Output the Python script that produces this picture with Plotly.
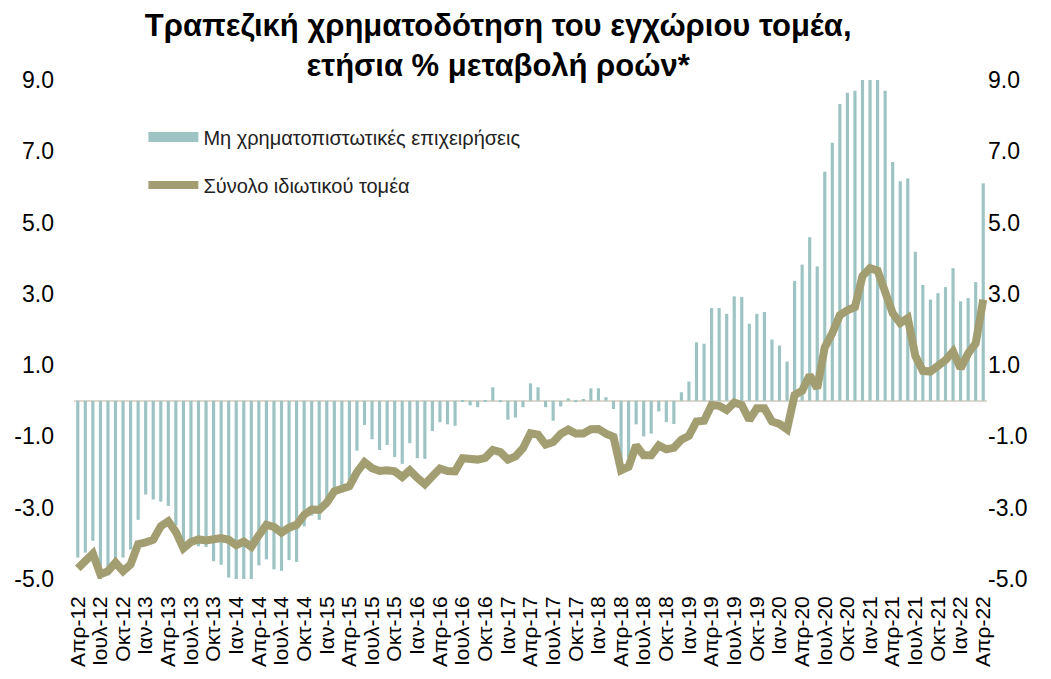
import plotly.graph_objects as go

# Greek month abbreviations and the monthly periods Apr-2012 .. Apr-2022
month_names = ["Ιαν", "Φεβ", "Μαρ", "Απρ", "Μαϊ", "Ιουν",
               "Ιουλ", "Αυγ", "Σεπ", "Οκτ", "Νοε", "Δεκ"]
periods = [f"{month_names[(3 + k) % 12]}-{12 + (3 + k) // 12}" for k in range(121)]
tick_labels = periods[::3]

# Non-financial corporations, annual % change of flows
nfc = [
    -4.40, -4.26, -3.93, -5.00, -4.90, -4.50, -4.40, -4.17, -3.34, -2.63,
    -2.77, -2.83, -2.95, -3.50, -4.05, -4.00, -4.08, -4.10, -4.50, -4.60,
    -4.96, -5.05, -5.05, -5.05, -4.62, -4.45, -4.73, -4.77, -4.47, -4.52,
    -3.52, -3.22, -3.34, -2.90, -2.60, -2.50, -2.30, -1.40, -0.68, -1.08,
    -1.38, -1.24, -1.58, -1.77, -1.19, -1.61, -1.63, -0.85, -0.60, -0.66,
    -0.70, -0.02, -0.13, -0.18, -0.01, 0.38, -0.04, -0.53, -0.47, -0.18,
    0.49, 0.38, -0.18, -0.56, -0.16, 0.07, -0.04, 0.04, 0.35, 0.35,
    0.10, -0.23, -1.95, -1.60, -0.66, -1.00, -0.92, -0.30, -0.60, -0.65,
    0.24, 0.54, 1.64, 1.60, 2.60, 2.60, 2.44, 2.93, 2.91, 2.16,
    2.44, 2.49, 1.72, 1.55, 1.10, 3.36, 3.82, 4.59, 3.77, 6.43,
    7.24, 8.33, 8.64, 8.70, 9.10, 9.10, 9.10, 8.70, 6.70, 6.16,
    6.24, 4.18, 3.25, 2.84, 3.02, 3.19, 3.72, 2.79, 2.88, 3.33,
    6.10,
]

# Total private sector, annual % change of flows
private_total = [
    -4.70, -4.49, -4.29, -4.87, -4.78, -4.54, -4.78, -4.59, -4.02, -3.97,
    -3.90, -3.52, -3.38, -3.68, -4.14, -3.96, -3.89, -3.92, -3.91, -3.85,
    -3.90, -4.05, -3.95, -4.10, -3.77, -3.48, -3.54, -3.70, -3.56, -3.48,
    -3.20, -3.05, -3.06, -2.86, -2.54, -2.46, -2.40, -2.00, -1.72, -1.89,
    -1.97, -1.95, -1.98, -2.14, -1.95, -2.16, -2.34, -2.12, -1.90, -1.97,
    -1.98, -1.61, -1.65, -1.65, -1.60, -1.38, -1.44, -1.65, -1.56, -1.33,
    -0.91, -0.95, -1.23, -1.16, -0.93, -0.81, -0.92, -0.92, -0.80, -0.79,
    -0.92, -1.01, -1.95, -1.85, -1.25, -1.53, -1.53, -1.25, -1.36, -1.32,
    -1.09, -0.98, -0.58, -0.56, -0.12, -0.14, -0.26, -0.05, -0.12, -0.54,
    -0.21, -0.21, -0.58, -0.65, -0.80, 0.16, 0.28, 0.72, 0.35, 1.50,
    1.90, 2.40, 2.54, 2.63, 3.50, 3.72, 3.65, 3.05, 2.46, 2.18,
    2.32, 1.26, 0.84, 0.82, 0.95, 1.14, 1.38, 0.91, 1.33, 1.61,
    2.84,
]

y_ticks = [-5, -3, -1, 1, 3, 5, 7, 9]
y_tick_text = [f"{v:.1f}" for v in y_ticks]

BAR_COLOR = "#9DC4C3"
LINE_COLOR = "#A39E72"
FONT = "Liberation Sans, Arial, sans-serif"
NFC_NAME = "Μη χρηματοπιστωτικές επιχειρήσεις"
TOTAL_NAME = "Σύνολο ιδιωτικού τομέα"

fig = go.Figure()
fig.add_trace(go.Bar(
    x=periods, y=nfc, name=NFC_NAME,
    marker=dict(color=BAR_COLOR, line=dict(width=0)),
    showlegend=False, legendgroup="nfc",
))
# wide swatch for the bar series in the legend
fig.add_trace(go.Scatter(
    x=[None], y=[None], name=NFC_NAME, mode="lines",
    line=dict(color=BAR_COLOR, width=13), legendgroup="nfc",
    hoverinfo="skip",
))
fig.add_trace(go.Scatter(
    x=periods, y=private_total, name=TOTAL_NAME,
    mode="lines", line=dict(color=LINE_COLOR, width=8),
    yaxis="y2", legendgroup="total",
))

axis_common = dict(
    range=[-5, 9], tickvals=y_ticks, ticktext=y_tick_text,
    tickfont=dict(size=23, color="#000"), showgrid=False,
    ticks="", showline=False,
)

fig.update_layout(
    width=1051, height=679,
    margin=dict(l=74, r=64, t=80, b=98),
    paper_bgcolor="white", plot_bgcolor="white",
    font=dict(family=FONT, color="#000"),
    bargap=0.58,
    title=dict(
        text="<b>Τραπεζική χρηματοδότηση του εγχώριου τομέα,<br>ετήσια % μεταβολή ροών*</b>",
        x=0.474, xanchor="center", y=0.947, yanchor="middle",
        font=dict(size=31, color="#000"),
    ),
    showlegend=True,
    legend=dict(
        x=0.076, y=0.925, xanchor="left", yanchor="top",
        font=dict(size=20, color="#222"),
        bgcolor="rgba(0,0,0,0)", tracegroupgap=19, itemwidth=50,
    ),
    xaxis=dict(
        type="category", tickvals=tick_labels, ticktext=tick_labels,
        tickangle=-90, tickfont=dict(size=21, color="#000"),
        showgrid=False, ticks="", showline=False, ticklabelstandoff=12,
    ),
    yaxis=dict(
        **axis_common, zeroline=True, zerolinecolor="#DCD8CE",
        zerolinewidth=2, ticklabelstandoff=19,
    ),
    yaxis2=dict(
        **axis_common, overlaying="y", side="right", matches="y",
        zeroline=False,
    ),
)

fig.write_html("out.html")
